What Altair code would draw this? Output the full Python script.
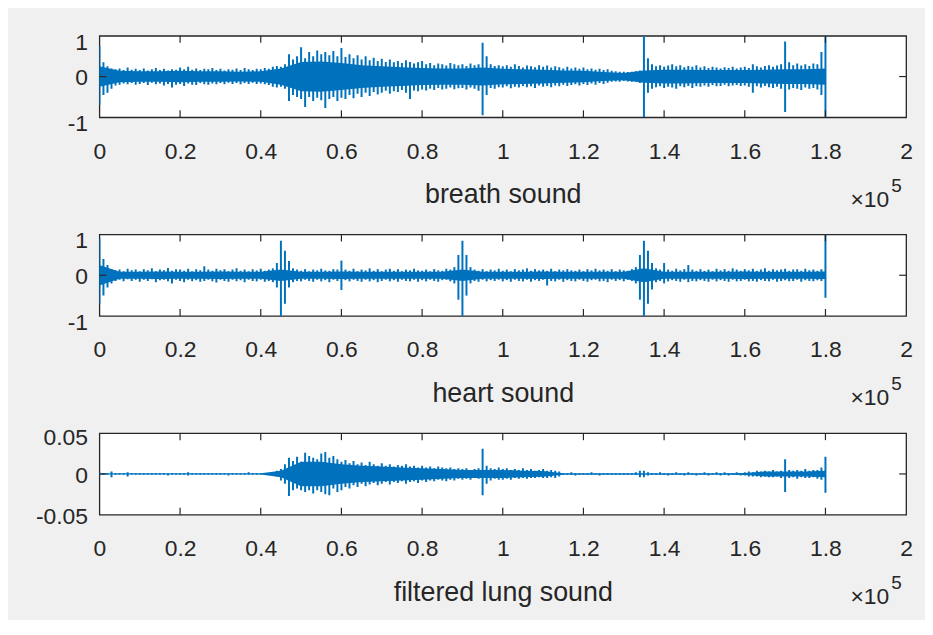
import altair as alt
import pandas as pd

BLUE = "#0072BD"
DARK = "#262626"
FONT = "Liberation Sans"

# sample grid (in units of 1e5 samples)
X_GRID = [round(i * 0.01, 2) for i in range(181)]
CORE_GRID = [round(i * 0.05, 2) for i in range(37)]
X_TICKS = [0, 0.2, 0.4, 0.6, 0.8, 1, 1.2, 1.4, 1.6, 1.8, 2]

# ---------------- breath sound ----------------
breath_hi = [
    0.75, 0.35, 0.25, 0.2, 0.18, 0.2, 0.16, 0.22, 0.17, 0.19,
    0.16, 0.2, 0.15, 0.18, 0.21, 0.16, 0.19, 0.15, 0.18, 0.17,
    0.22, 0.18, 0.24, 0.17, 0.2, 0.16, 0.19, 0.18, 0.21, 0.16,
    0.19, 0.15, 0.18, 0.17, 0.2, 0.16, 0.21, 0.18, 0.16, 0.19,
    0.18, 0.21, 0.19, 0.24, 0.26, 0.24, 0.3, 0.55, 0.42, 0.5,
    0.72, 0.45, 0.6, 0.5, 0.64, 0.55, 0.6, 0.52, 0.63, 0.5,
    0.7, 0.48, 0.55, 0.45, 0.52, 0.42, 0.5, 0.4, 0.46, 0.38,
    0.44, 0.36, 0.42, 0.35, 0.38, 0.33, 0.4, 0.36, 0.32, 0.35,
    0.38, 0.3, 0.33, 0.28, 0.32, 0.3, 0.27, 0.33, 0.3, 0.28,
    0.3, 0.26, 0.32, 0.28, 0.3, 0.83, 0.5, 0.3, 0.26, 0.28,
    0.25, 0.28, 0.24, 0.3, 0.26, 0.22, 0.27, 0.25, 0.23, 0.28,
    0.24, 0.27, 0.22, 0.25, 0.23, 0.2, 0.24, 0.2, 0.22, 0.19,
    0.22, 0.18, 0.2, 0.17, 0.19, 0.16, 0.18, 0.14, 0.13, 0.12,
    0.12, 0.11, 0.12, 0.13, 0.15, 1.0, 0.45, 0.3, 0.25, 0.28,
    0.24, 0.27, 0.3, 0.25, 0.28, 0.23, 0.26, 0.24, 0.28, 0.22,
    0.25, 0.21, 0.24, 0.22, 0.2, 0.23, 0.21, 0.24, 0.2, 0.22,
    0.24, 0.21, 0.3, 0.25, 0.22, 0.26, 0.28, 0.24, 0.27, 0.3,
    0.86, 0.35, 0.28, 0.32, 0.27, 0.3, 0.26, 0.32, 0.3, 0.6,
    1.0,
]
breath_lo = [
    -0.7, -0.45, -0.4, -0.3, -0.22, -0.2, -0.17, -0.19, -0.16, -0.2,
    -0.18, -0.16, -0.21, -0.15, -0.19, -0.17, -0.22, -0.18, -0.27, -0.2,
    -0.18, -0.23, -0.17, -0.2, -0.21, -0.16, -0.19, -0.2, -0.17, -0.19,
    -0.16, -0.19, -0.15, -0.18, -0.16, -0.19, -0.16, -0.18, -0.15, -0.18,
    -0.17, -0.19, -0.21, -0.25, -0.27, -0.25, -0.3, -0.6, -0.45, -0.5,
    -0.55, -0.75, -0.5, -0.6, -0.52, -0.58, -0.77, -0.55, -0.5, -0.6,
    -0.52, -0.55, -0.45, -0.53, -0.42, -0.5, -0.4, -0.48, -0.38, -0.44,
    -0.4, -0.35, -0.42, -0.36, -0.38, -0.33, -0.4, -0.55, -0.34, -0.36,
    -0.32, -0.34, -0.3, -0.33, -0.28, -0.32, -0.3, -0.27, -0.31, -0.29,
    -0.28, -0.32, -0.27, -0.3, -0.35, -0.95, -0.45, -0.28, -0.3, -0.26,
    -0.27, -0.24, -0.29, -0.25, -0.27, -0.23, -0.26, -0.24, -0.28, -0.22,
    -0.25, -0.23, -0.26, -0.22, -0.24, -0.2, -0.23, -0.21, -0.19, -0.22,
    -0.18, -0.21, -0.17, -0.2, -0.16, -0.18, -0.15, -0.13, -0.12, -0.13,
    -0.11, -0.12, -0.13, -0.12, -0.16, -1.0, -0.4, -0.3, -0.26, -0.24,
    -0.28, -0.25, -0.27, -0.3, -0.24, -0.26, -0.23, -0.28, -0.24, -0.25,
    -0.22, -0.25, -0.21, -0.24, -0.23, -0.2, -0.24, -0.22, -0.21, -0.23,
    -0.22, -0.25, -0.4, -0.24, -0.27, -0.23, -0.26, -0.28, -0.25, -0.3,
    -0.87, -0.32, -0.28, -0.3, -0.33, -0.27, -0.3, -0.28, -0.32, -0.45,
    -1.0,
]
breath_core = [
    0.25, 0.14, 0.13, 0.13, 0.14, 0.13, 0.13, 0.12, 0.13, 0.2,
    0.36, 0.37, 0.33, 0.28, 0.25, 0.23, 0.21, 0.2, 0.2, 0.22,
    0.19, 0.18, 0.17, 0.15, 0.14, 0.11, 0.09, 0.15, 0.17, 0.17,
    0.16, 0.16, 0.16, 0.17, 0.18, 0.18, 0.2,
]

# ---------------- heart sound ----------------
heart_hi = [
    0.9, 0.4, 0.25, 0.15, 0.12, 0.14, 0.1, 0.16, 0.12, 0.14,
    0.1, 0.15, 0.12, 0.17, 0.1, 0.14, 0.12, 0.18, 0.11, 0.15,
    0.14, 0.11, 0.16, 0.1, 0.15, 0.12, 0.22, 0.14, 0.11, 0.16,
    0.12, 0.15, 0.1, 0.14, 0.17, 0.11, 0.14, 0.1, 0.15, 0.12,
    0.16, 0.11, 0.14, 0.17, 0.3, 0.85, 0.6, 0.35, 0.17, 0.14,
    0.11, 0.15, 0.1, 0.14, 0.12, 0.16, 0.12, 0.11, 0.15, 0.14,
    0.36, 0.14, 0.11, 0.16, 0.1, 0.14, 0.12, 0.17, 0.11, 0.15,
    0.1, 0.14, 0.16, 0.11, 0.15, 0.1, 0.14, 0.12, 0.16, 0.12,
    0.11, 0.14, 0.1, 0.15, 0.12, 0.11, 0.16, 0.14, 0.2, 0.5,
    0.85, 0.5, 0.2, 0.14, 0.11, 0.15, 0.1, 0.14, 0.12, 0.16,
    0.11, 0.14, 0.1, 0.15, 0.12, 0.14, 0.17, 0.11, 0.15, 0.12,
    0.14, 0.11, 0.16, 0.1, 0.14, 0.12, 0.15, 0.12, 0.11, 0.14,
    0.1, 0.15, 0.12, 0.16, 0.12, 0.14, 0.11, 0.15, 0.1, 0.14,
    0.12, 0.11, 0.15, 0.2, 0.5, 0.85, 0.6, 0.3, 0.17, 0.14,
    0.3, 0.14, 0.11, 0.16, 0.12, 0.15, 0.25, 0.14, 0.11, 0.15,
    0.11, 0.14, 0.1, 0.16, 0.12, 0.15, 0.11, 0.17, 0.14, 0.11,
    0.15, 0.12, 0.16, 0.11, 0.14, 0.17, 0.11, 0.15, 0.12, 0.14,
    0.16, 0.11, 0.14, 0.15, 0.11, 0.16, 0.12, 0.14, 0.11, 0.15,
    1.0,
]
heart_lo = [
    -0.7, -0.5, -0.3, -0.2, -0.14, -0.11, -0.15, -0.1, -0.14, -0.11,
    -0.16, -0.11, -0.14, -0.1, -0.17, -0.12, -0.11, -0.15, -0.2, -0.11,
    -0.14, -0.17, -0.11, -0.15, -0.12, -0.16, -0.14, -0.11, -0.15, -0.18,
    -0.11, -0.14, -0.16, -0.11, -0.15, -0.12, -0.17, -0.11, -0.14, -0.15,
    -0.11, -0.16, -0.14, -0.17, -0.3, -1.0, -0.7, -0.3, -0.17, -0.14,
    -0.15, -0.11, -0.14, -0.16, -0.11, -0.15, -0.12, -0.17, -0.11, -0.14,
    -0.36, -0.12, -0.15, -0.11, -0.14, -0.16, -0.11, -0.15, -0.12, -0.17,
    -0.14, -0.11, -0.15, -0.12, -0.16, -0.11, -0.14, -0.15, -0.11, -0.16,
    -0.12, -0.15, -0.11, -0.14, -0.16, -0.12, -0.11, -0.15, -0.2, -0.6,
    -1.0, -0.5, -0.2, -0.14, -0.16, -0.11, -0.15, -0.12, -0.14, -0.11,
    -0.15, -0.12, -0.16, -0.11, -0.14, -0.15, -0.11, -0.16, -0.12, -0.14,
    -0.11, -0.25, -0.14, -0.15, -0.11, -0.16, -0.12, -0.14, -0.15, -0.11,
    -0.14, -0.16, -0.12, -0.11, -0.15, -0.14, -0.17, -0.11, -0.14, -0.12,
    -0.15, -0.11, -0.14, -0.2, -0.6, -1.0, -0.7, -0.35, -0.17, -0.14,
    -0.2, -0.15, -0.12, -0.14, -0.16, -0.11, -0.17, -0.14, -0.15, -0.12,
    -0.14, -0.16, -0.11, -0.15, -0.12, -0.14, -0.16, -0.11, -0.15, -0.14,
    -0.11, -0.15, -0.14, -0.16, -0.12, -0.14, -0.15, -0.11, -0.16, -0.14,
    -0.12, -0.15, -0.14, -0.11, -0.16, -0.12, -0.14, -0.15, -0.12, -0.14,
    -0.55,
]
heart_core = [
    0.25, 0.085, 0.085, 0.09, 0.085, 0.085, 0.09, 0.085, 0.085, 0.14,
    0.085, 0.085, 0.09, 0.085, 0.085, 0.085, 0.085, 0.085, 0.14, 0.085,
    0.085, 0.085, 0.09, 0.085, 0.085, 0.085, 0.085, 0.17, 0.085, 0.085,
    0.085, 0.085, 0.09, 0.085, 0.085, 0.085, 0.09,
]

# ---------------- filtered lung sound ----------------
lung_hi = [
    0.002, 0.001, 0.001, 0.003, 0.001, 0.001, 0.001, 0.002, 0.001, 0.001,
    0.001, 0.001, 0.001, 0.001, 0.001, 0.001, 0.001, 0.001, 0.001, 0.001,
    0.001, 0.001, 0.002, 0.001, 0.001, 0.001, 0.001, 0.001, 0.001, 0.001,
    0.001, 0.001, 0.001, 0.001, 0.001, 0.001, 0.001, 0.002, 0.001, 0.001,
    0.001, 0.001, 0.001, 0.002, 0.004, 0.006, 0.012, 0.02, 0.016, 0.021,
    0.015, 0.026, 0.022, 0.02, 0.018, 0.025, 0.027, 0.02, 0.022, 0.018,
    0.015, 0.017, 0.013, 0.016, 0.012, 0.014, 0.011, 0.015, 0.012, 0.01,
    0.013, 0.01, 0.012, 0.009, 0.011, 0.01, 0.012, 0.009, 0.01, 0.008,
    0.01, 0.008, 0.009, 0.007, 0.009, 0.008, 0.007, 0.008, 0.006, 0.007,
    0.006, 0.007, 0.005, 0.006, 0.007, 0.031, 0.01, 0.007, 0.006, 0.008,
    0.006, 0.007, 0.005, 0.006, 0.005, 0.007, 0.005, 0.006, 0.004, 0.005,
    0.006, 0.004, 0.005, 0.004, 0.003, 0.001, 0.001, 0.002, 0.001, 0.001,
    0.001, 0.001, 0.002, 0.001, 0.001, 0.001, 0.001, 0.001, 0.001, 0.001,
    0.001, 0.001, 0.001, 0.002, 0.004, 0.004, 0.002, 0.001, 0.001, 0.002,
    0.001, 0.001, 0.001, 0.002, 0.001, 0.001, 0.002, 0.001, 0.001, 0.001,
    0.002, 0.001, 0.001, 0.002, 0.001, 0.002, 0.001, 0.001, 0.002, 0.001,
    0.002, 0.003, 0.002, 0.004, 0.003, 0.004, 0.003, 0.005, 0.003, 0.004,
    0.018, 0.005, 0.004, 0.005, 0.004, 0.006, 0.004, 0.005, 0.005, 0.008,
    0.021,
]
lung_lo = [
    -0.002, -0.001, -0.001, -0.004, -0.001, -0.001, -0.001, -0.003, -0.001, -0.001,
    -0.001, -0.001, -0.001, -0.001, -0.001, -0.001, -0.001, -0.002, -0.001, -0.001,
    -0.001, -0.001, -0.002, -0.001, -0.001, -0.001, -0.001, -0.001, -0.001, -0.001,
    -0.001, -0.001, -0.002, -0.001, -0.001, -0.001, -0.001, -0.001, -0.001, -0.001,
    -0.001, -0.001, -0.001, -0.002, -0.003, -0.008, -0.012, -0.027, -0.02, -0.018,
    -0.02, -0.022, -0.02, -0.024, -0.02, -0.022, -0.025, -0.026, -0.018, -0.022,
    -0.02, -0.016, -0.018, -0.014, -0.016, -0.012, -0.015, -0.013, -0.011, -0.014,
    -0.012, -0.01, -0.013, -0.01, -0.011, -0.009, -0.012, -0.01, -0.009, -0.011,
    -0.008, -0.01, -0.008, -0.009, -0.007, -0.008, -0.009, -0.007, -0.008, -0.006,
    -0.007, -0.006, -0.007, -0.005, -0.006, -0.026, -0.012, -0.008, -0.006, -0.007,
    -0.007, -0.006, -0.007, -0.005, -0.006, -0.005, -0.006, -0.005, -0.005, -0.004,
    -0.005, -0.005, -0.004, -0.005, -0.003, -0.001, -0.001, -0.001, -0.002, -0.001,
    -0.001, -0.001, -0.001, -0.001, -0.002, -0.001, -0.001, -0.001, -0.001, -0.001,
    -0.001, -0.001, -0.001, -0.001, -0.004, -0.004, -0.002, -0.001, -0.001, -0.001,
    -0.001, -0.002, -0.001, -0.001, -0.001, -0.002, -0.001, -0.001, -0.002, -0.001,
    -0.001, -0.002, -0.001, -0.001, -0.002, -0.001, -0.002, -0.001, -0.001, -0.002,
    -0.002, -0.003, -0.003, -0.003, -0.004, -0.003, -0.004, -0.004, -0.003, -0.005,
    -0.022, -0.005, -0.004, -0.006, -0.004, -0.005, -0.005, -0.004, -0.006, -0.007,
    -0.023,
]
lung_core = [
    0.0008, 0.0008, 0.0008, 0.0008, 0.0008, 0.0008, 0.0008, 0.0008, 0.0008, 0.004,
    0.015, 0.015, 0.012, 0.01, 0.009, 0.008, 0.007, 0.006, 0.005, 0.005,
    0.005, 0.004, 0.0035, 0.001, 0.001, 0.001, 0.001, 0.001, 0.001, 0.001,
    0.001, 0.001, 0.0012, 0.003, 0.003, 0.003, 0.004,
]

TITLES = ["breath sound", "heart sound", "filtered lung sound"]

W, H = 812, 82


def wave_frame(hi, lo):
    return pd.DataFrame({"x": X_GRID, "lo": lo, "hi": hi})


def core_frame(core):
    return pd.DataFrame({"x": CORE_GRID, "lo": [-c for c in core], "hi": core})


def panel(hi, lo, core, ydomain, yvalues, title, yoffset):
    xs = alt.Scale(domain=[0, 2], nice=False, zero=False)
    ys = alt.Scale(domain=ydomain, nice=False, zero=False)
    xaxis = alt.Axis(
        values=X_TICKS, format="~g", title=title, grid=False, ticks=False,
        tickSize=0, domain=False, labelPadding=23, labelFlush=False,
        titlePadding=19,
    )
    yaxis = alt.Axis(
        values=yvalues, title=None, grid=False, ticks=False, tickSize=0,
        domain=False, labelPadding=12, labelFlush=False, labelOffset=yoffset,
        labelExpr="datum.value < 0 ? '-' + format(-datum.value, '~g') : format(datum.value, '~g')",
    )
    X = alt.X("x:Q", scale=xs, axis=xaxis)

    core_layer = alt.Chart(core_frame(core)).mark_area(color=BLUE, clip=True).encode(
        x=X, y=alt.Y("lo:Q", scale=ys, axis=yaxis), y2="hi:Q"
    )
    spikes = alt.Chart(wave_frame(hi, lo)).mark_rule(
        color=BLUE, strokeWidth=2, clip=True
    ).encode(x=X, y=alt.Y("lo:Q", scale=ys, axis=yaxis), y2="hi:Q")

    tick_df = pd.DataFrame({"x": X_TICKS[1:-1]})
    top_ticks = alt.Chart(tick_df).mark_rule(color=DARK, strokeWidth=1.2).encode(
        x=X, y=alt.value(0), y2=alt.value(7)
    )
    bot_ticks = alt.Chart(tick_df).mark_rule(color=DARK, strokeWidth=1.2).encode(
        x=X, y=alt.value(H), y2=alt.value(H - 7)
    )
    ytick_df = pd.DataFrame({"lo": [0]})
    left_tick = alt.Chart(ytick_df).mark_rule(color=DARK, strokeWidth=1.2).encode(
        y=alt.Y("lo:Q", scale=ys, axis=yaxis), x=alt.value(0), x2=alt.value(7)
    )
    right_tick = alt.Chart(ytick_df).mark_rule(color=DARK, strokeWidth=1.2).encode(
        y=alt.Y("lo:Q", scale=ys, axis=yaxis), x=alt.value(W), x2=alt.value(W - 7)
    )
    exp_df = pd.DataFrame({"t": ["\u00d710"], "s": ["5"]})
    times10 = alt.Chart(exp_df).mark_text(
        align="right", baseline="alphabetic", fontSize=23, color=DARK, font=FONT
    ).encode(x=alt.value(795), y=alt.value(H + 90), text="t:N")
    sup5 = alt.Chart(exp_df).mark_text(
        align="left", baseline="alphabetic", fontSize=19, color=DARK, font=FONT
    ).encode(x=alt.value(797), y=alt.value(H + 75), text="s:N")

    return alt.layer(
        core_layer, spikes, top_ticks, bot_ticks, left_tick, right_tick, times10, sup5
    ).properties(width=W, height=H)


off_big = {"condition": {"test": "datum.value == 0", "value": 1}, "value": 6.5}
off_small = {"condition": {"test": "datum.value > 0", "value": 4}, "value": 2}

p1 = panel(breath_hi, breath_lo, breath_core, [-1, 1], [-1, 0, 1], TITLES[0], off_big)
p2 = panel(heart_hi, heart_lo, heart_core, [-1, 1], [-1, 0, 1], TITLES[1], off_big)
p3 = panel(lung_hi, lung_lo, lung_core, [-0.05, 0.05], [-0.05, 0, 0.05], TITLES[2], off_small)

chart = (
    alt.vconcat(p1, p2, p3, spacing=118, bounds="flush")
    .properties(background="#f0f0f0", padding={"left": 26, "top": 20, "right": 11, "bottom": 8})
    .configure_view(stroke=DARK, strokeWidth=1.3, fill="white")
    .configure_axis(
        labelFont=FONT, titleFont=FONT, labelFontSize=23, titleFontSize=27,
        titleFontWeight="normal", labelColor=DARK, titleColor=DARK,
    )
)

chart.save("out.html", embed_options={"renderer": "svg", "actions": False})
